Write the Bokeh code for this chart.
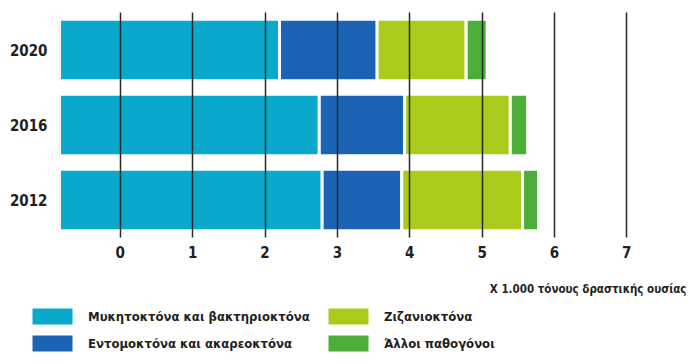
from bokeh.plotting import figure
from bokeh.models import (ColumnDataSource, FactorRange, Range1d, FixedTicker,
                          Legend, LegendItem, Label)
from bokeh.embed import file_html
from bokeh.resources import INLINE

# ---- data (x 1.000 tonnes of active substance) ----
years = ["2012", "2016", "2020"]
series_names = ["Μυκητοκτόνα και βακτηριοκτόνα", "Εντομοκτόνα και ακαρεοκτόνα",
                "Ζιζανιοκτόνα", "Άλλοι παθογόνοι"]
fungicides = [3.63, 3.59, 3.04]
insecticides = [1.10, 1.18, 1.35]
herbicides = [1.67, 1.46, 1.23]
others = [0.22, 0.24, 0.29]
tick_values = [0, 1, 2, 3, 4, 5, 6, 7]
axis_title = "X 1.000 τόνους δραστικής ουσίας"

colors = ["#0AA8CA", "#1C63B6", "#AACB1B", "#4CAD39"]
FONT = "DejaVu Sans Condensed"
TXT = "#231F20"

x_start, x_end = -0.84, 7.825

# ---------------- main chart ----------------
p = figure(width=700, height=264, output_backend="svg", toolbar_location=None,
           y_range=FactorRange(factors=years, range_padding=0),
           x_range=Range1d(x_start, x_end),
           min_border_left=59, min_border_right=14, min_border_top=12,
           min_border_bottom=27)
p.outline_line_color = None
p.background_fill_color = "white"

all_series = [fungicides, insecticides, herbicides, others]
sources = []
cum = [x_start] * len(years)
for vals, col in zip(all_series, colors):
    left = list(cum)
    right = [l + v for l, v in zip(left, vals)]
    src = ColumnDataSource(dict(y=years, left=left, right=right))
    sources.append(src)
    p.hbar(y="y", left="left", right="right", height=0.82, source=src,
           fill_color=col, line_color="white", line_width=3)
    cum = right

for ax in (p.xaxis, p.yaxis):
    ax.axis_line_color = None
    ax.major_tick_line_color = None
    ax.minor_tick_line_color = None
    ax.major_tick_out = 0
    ax.major_label_text_font = FONT
    ax.major_label_text_font_style = "bold"
    ax.major_label_text_font_size = "15px"
    ax.major_label_text_color = TXT

p.xaxis.ticker = FixedTicker(ticks=tick_values)
p.xaxis.major_label_standoff = 8
p.yaxis.major_label_standoff = 12

# grid on top of bars
p.xgrid.ticker = FixedTicker(ticks=tick_values)
p.xgrid.grid_line_color = "#2A2A2A"
p.xgrid.grid_line_width = 1.5
p.xgrid.level = "overlay"
p.ygrid.visible = False

# ---------------- axis title + legend strip ----------------
# the strip's y range holds no year, so the proxy bars below are never drawn here
lg = figure(width=700, height=100, output_backend="svg", toolbar_location=None,
            x_range=Range1d(x_start, x_end),
            y_range=FactorRange(factors=["legend"], range_padding=0),
            x_axis_type=None, y_axis_type=None,
            min_border_left=0, min_border_right=0, min_border_top=0,
            min_border_bottom=0)
lg.outline_line_color = None
lg.grid.visible = False

lg.add_layout(Label(x=686, y=76, x_units="screen", y_units="screen",
                    text=axis_title, text_align="right", text_baseline="middle",
                    text_font=FONT, text_font_style="bold", text_font_size="11.5px",
                    text_color=TXT))

items = []
for name, col, src in zip(series_names, colors, sources):
    r = lg.hbar(y="y", left="left", right="right", height=0.82, source=src,
                fill_color=col, line_color=None)
    items.append(LegendItem(label=name, renderers=[r]))

legend = Legend(items=items, location=(27, 11), orientation="vertical", nrows=2,
                glyph_width=50, glyph_height=20, label_standoff=11, label_width=228,
                label_height=20, spacing=7, padding=0, margin=0,
                border_line_color=None, background_fill_alpha=0,
                label_text_font=FONT, label_text_font_style="bold",
                label_text_font_size="13px", label_text_color=TXT)
lg.add_layout(legend)

open("out.html", "w").write(file_html([p, lg], INLINE))
